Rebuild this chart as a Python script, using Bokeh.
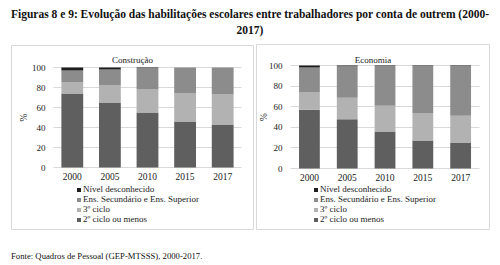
from bokeh.plotting import figure
from bokeh.models import Range1d, Legend, LegendItem, Label, Div
from bokeh.layouts import column, row
from bokeh.embed import file_html
from bokeh.resources import INLINE

years = ["2000", "2005", "2010", "2015", "2017"]
series = ["c2", "c3", "sec", "unk"]
labels = ["2º ciclo ou menos", "3º ciclo", "Ens. Secundário e Ens. Superior", "Nível desconhecido"]
colors = ["#5f5f5f", "#b2b2b2", "#8c8c8c", "#1e1e1e"]

# Construção
cons_c2 = [74, 65, 55, 46, 43]
cons_c3 = [11, 17, 23, 28, 30]
cons_sec = [12, 16, 21.5, 26, 27]
cons_unk = [3, 2, 0.5, 0, 0]

# Economia
eco_c2 = [57, 47.7, 36, 27.3, 24.7]
eco_c3 = [16.7, 21.1, 25, 26.7, 26.6]
eco_sec = [24.3, 30.5, 38.5, 45.5, 48.2]
eco_unk = [2, 0.7, 0.5, 0.5, 0.5]

yticks = [0, 20, 40, 60, 80, 100]

FONT = "Liberation Serif"
GRID = "#d9d9d9"
TXT = "#222222"


def make_panel(name, c2, c3, sec, unk, width, height, xr, yr, bar_w,
               title_x, title_y, legend_loc, ylab_standoff, margin):
    idx = list(range(len(years)))
    p = figure(x_range=Range1d(*xr), y_range=Range1d(*yr),
               width=width, height=height, output_backend="svg",
               toolbar_location=None, min_border=0, margin=margin)
    src = dict(x=idx, c2=c2, c3=c3, sec=sec, unk=unk)
    rs = p.vbar_stack(series, x="x", width=bar_w, fill_color=colors,
                      line_color=None, source=src)
    p.outline_line_color = GRID
    p.outline_line_width = 1
    p.background_fill_color = "white"
    p.border_fill_color = "white"
    p.xgrid.grid_line_color = None
    p.ygrid.grid_line_color = GRID
    p.ygrid.ticker = yticks
    p.ygrid.cross_bounds = (-0.5, len(years) - 0.5)

    ya = p.yaxis[0]
    ya.fixed_location = -0.5
    ya.bounds = (0, 100)
    ya.ticker = yticks
    ya.axis_line_color = None
    ya.major_tick_line_color = None
    ya.minor_tick_line_color = None
    ya.major_tick_out = 0
    ya.major_tick_in = 0
    ya.minor_tick_out = 0
    ya.major_label_standoff = 8
    ya.major_label_text_font = FONT
    ya.major_label_text_font_size = "9px"
    ya.major_label_text_color = TXT
    ya.axis_label = "%"
    ya.axis_label_text_font = FONT
    ya.axis_label_text_font_style = "normal"
    ya.axis_label_text_font_size = "9.5px"
    ya.axis_label_text_color = TXT
    ya.axis_label_standoff = ylab_standoff

    xa = p.xaxis[0]
    xa.fixed_location = 0
    xa.ticker = idx
    xa.major_label_overrides = {i: y for i, y in zip(idx, years)}
    xa.axis_line_color = None
    xa.major_tick_line_color = None
    xa.minor_tick_line_color = None
    xa.major_tick_out = 0
    xa.major_tick_in = 0
    xa.minor_tick_out = 0
    xa.major_label_standoff = 5
    xa.major_label_text_font = FONT
    xa.major_label_text_font_size = "9.5px"
    xa.major_label_text_color = TXT

    p.add_layout(Label(x=title_x, y=title_y, text=name, text_font=FONT,
                       text_font_size="9px", text_align="center",
                       text_baseline="middle", text_color=TXT))

    items = [LegendItem(label=labels[i], renderers=[rs[i]]) for i in [3, 2, 1, 0]]
    leg = Legend(items=items, location=legend_loc, orientation="vertical",
                 label_text_font=FONT, label_text_font_size="9px",
                 label_text_color=TXT,
                 glyph_width=5, glyph_height=5, label_height=8,
                 label_standoff=2, spacing=-4, padding=0, margin=0,
                 border_line_color=None, background_fill_alpha=0)
    p.add_layout(leg)
    return p


left = make_panel("Construção", cons_c2, cons_c3, cons_sec, cons_unk,
                  243, 185, (-1.617, 4.846), (-63, 122), 0.58,
                  1.6, 108, (65, 6), 0, (1, 0, 0, 11))
right = make_panel("Economia", eco_c2, eco_c3, eco_sec, eco_unk,
                   234, 186, (-1.40, 4.79), (-60.2, 120.4), 0.55,
                   1.68, 105.8, (57, 6), -3, (0, 0, 0, 2))

title = Div(text=('<div style="font-family:\'Liberation Serif\';font-weight:bold;'
                  'font-size:11.5px;line-height:16px;text-align:center;width:500px;'
                  'padding-top:6px;color:#111">'
                  'Figuras 8 e 9: Evolução das habilitações escolares entre trabalhadores '
                  'por conta de outrem (2000-<br>2017)</div>'),
            width=500, height=44, margin=0)

foot = Div(text=('<div style="font-family:\'Liberation Serif\';font-size:8.7px;'
                 'line-height:12px;color:#111">'
                 'Fonte: Quadros de Pessoal (GEP-MTSSS), 2000-2017.</div>'),
           width=300, height=14, margin=(17, 0, 0, 11))

layout = column(title, row(left, right, margin=0), foot, margin=0)

open("out.html", "w").write(file_html(layout, INLINE))
